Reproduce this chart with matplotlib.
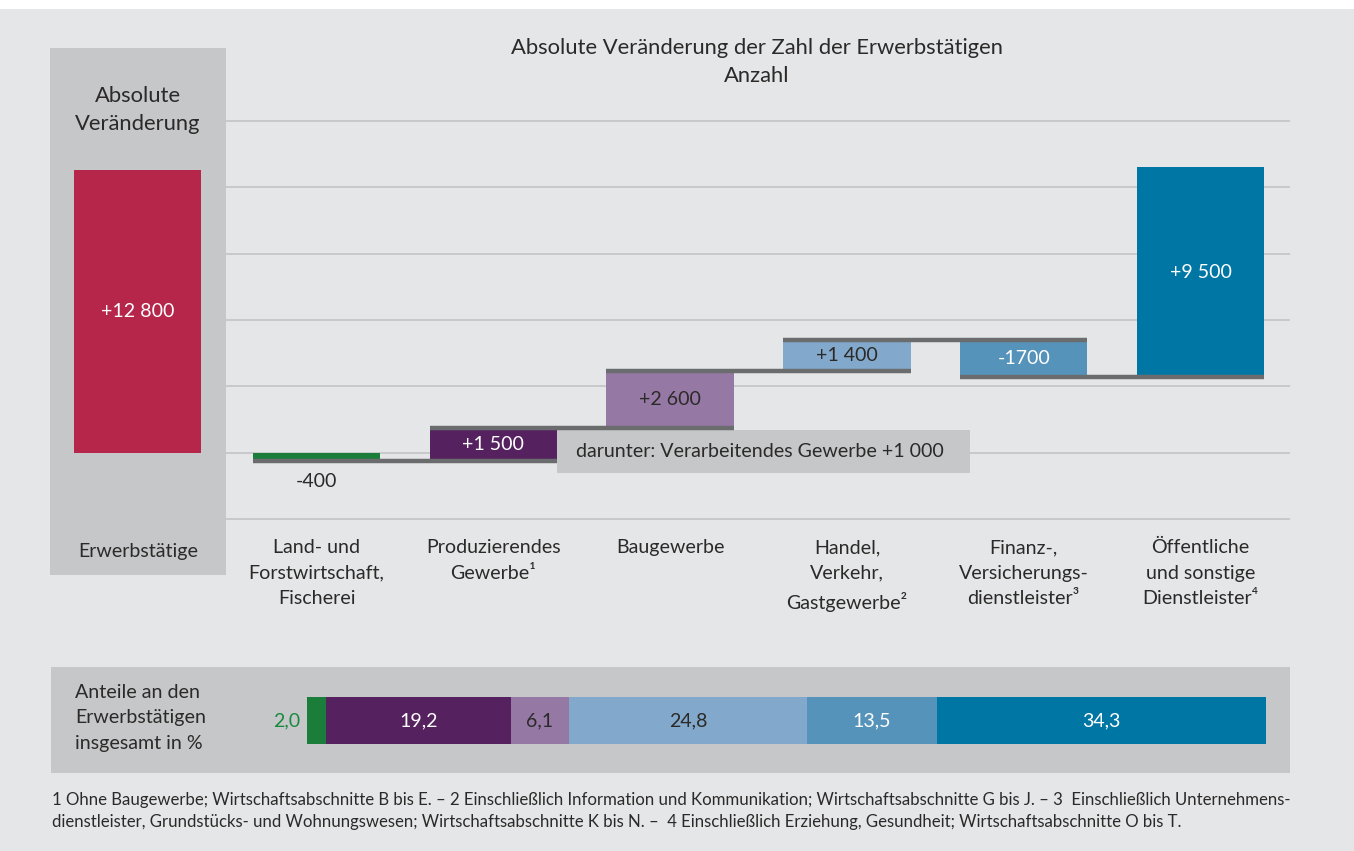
import matplotlib
matplotlib.use("Agg")
import matplotlib.pyplot as plt
from matplotlib.patches import Rectangle

# ---------------- data ----------------
categories = [
    "Land- und\nForstwirtschaft,\nFischerei",
    "Produzierendes\nGewerbe\u00b9",
    "Baugewerbe",
    "Handel,\nVerkehr,\nGastgewerbe\u00b2",
    "Finanz-,\nVersicherungs-\ndienstleister\u00b3",
    "\u00d6ffentliche\nund sonstige\nDienstleister\u2074",
]
changes = [-400, 1500, 2600, 1400, -1700, 9500]
change_labels = ["-400", "+1 500", "+2 600", "+1 400", "-1700", "+9 500"]
total_change = 12800
total_label = "+12 800"
shares = [2.0, 19.2, 6.1, 24.8, 13.5, 34.3]
share_labels = ["2,0", "19,2", "6,1", "24,8", "13,5", "34,3"]
grid_ticks = [-3000, 0, 3000, 6000, 9000, 12000, 15000]
subnote = "darunter: Verarbeitendes Gewerbe +1 000"

# ---------------- style ----------------
colors = ["#1a7d3a", "#55215f", "#9678a5", "#82a9cb", "#5593bb", "#0076a5"]
label_colors = ["#2b2a29", "white", "#2b2a29", "#2b2a29", "white", "white"]
share_label_colors = ["#1a8a40", "white", "#2b2a29", "#2b2a29", "white", "white"]
red = "#b5264a"
bg = "#e5e6e8"
panel = "#c6c7c9"
grid_c = "#c5c6c8"
conn_c = "#6b6c6e"
txt = "#2b2a29"

FS = 14.1      # body text
FT = 15.8      # titles
FF = 12.1      # footnote
LS = 1.49      # titles / footnote
LSB = 1.61     # body multi-line labels

plt.rcParams["font.family"] = ["Lato", "DejaVu Sans"]

W, H = 1354, 851
fig = plt.figure(figsize=(W / 100, H / 100), dpi=100, facecolor=bg)


def fx(px):
    return px / W


def fy(py):
    return 1 - py / H


def axes_px(x0, y0, x1, y1):
    return fig.add_axes([fx(x0), fy(y1), (x1 - x0) / W, (y1 - y0) / H])


# white strip at top
fig.patches.append(Rectangle((0, fy(9)), 1, 9 / H, transform=fig.transFigure,
                             facecolor="white", edgecolor="none", zorder=0))

# vertical scale shared by main and left panel
zero_px, px_per_3000 = 452.5, 66.3
top_px, bot_px = 48, 575
ylim_top = (zero_px - top_px) / px_per_3000 * 3000
ylim_bot = -(bot_px - zero_px) / px_per_3000 * 3000

# ---------------- main waterfall axes ----------------
c0, step = 316.5, 176.8
ax = axes_px(225, top_px, 1290, bot_px)
ax.set_facecolor("none")
ax.set_xlim((225 - c0) / step, (1290 - c0) / step)
ax.set_ylim(ylim_bot, ylim_top)
for s in ax.spines.values():
    s.set_visible(False)
ax.set_yticks(grid_ticks)
ax.set_xticks([])
ax.tick_params(left=False, labelleft=False)
ax.grid(axis="y", color=grid_c, lw=1.3, zorder=0)

bw = 0.72
cum = 0
starts, ends = [], []
for v in changes:
    starts.append(cum)
    cum += v
    ends.append(cum)

xs = list(range(len(changes)))
ax.bar(xs, changes, bottom=starts, width=bw, color=colors, zorder=3)

# connectors
for i in range(len(changes) - 1):
    ax.hlines(ends[i], i - bw / 2, i + 1 + bw / 2, color=conn_c, lw=3.2, zorder=4)

# sub-note box
box_left = 1 + bw / 2
box_right = (970 - c0) / step
box_top = ends[1] - 100
box_bot = box_top - 1950
ax.add_patch(Rectangle((box_left, box_bot), box_right - box_left, box_top - box_bot,
                       facecolor=panel, edgecolor="none", zorder=2))
ax.text(box_left + 0.11, (box_top + box_bot) / 2, subnote, ha="left", va="center",
        fontsize=FS, color=txt, zorder=5)

# value labels
for i, (v, lab) in enumerate(zip(changes, change_labels)):
    if i == 0:
        ax.text(i, ends[i] - 900, lab, ha="center", va="center", fontsize=FS,
                color=label_colors[i], zorder=5)
    else:
        ax.text(i, (starts[i] + ends[i]) / 2, lab, ha="center", va="center",
                fontsize=FS, color=label_colors[i], zorder=5)

# category labels
ytr = ax.get_xaxis_transform()
for i, cat in enumerate(categories):
    ax.text(i, (bot_px - 539) / (bot_px - top_px), cat, transform=ytr, ha="center",
            va="top", fontsize=FS, color=txt, linespacing=LSB)

# title
fig.text(fx(757), fy(48), "Absolute Ver\u00e4nderung der Zahl der Erwerbst\u00e4tigen",
         ha="center", va="center", fontsize=FT, color=txt)
fig.text(fx(757), fy(76), "Anzahl", ha="center", va="center", fontsize=FT, color=txt)

# ---------------- left panel ----------------
axl = axes_px(50, top_px, 226, bot_px)
axl.set_facecolor(panel)
axl.set_xlim(0, 1)
axl.set_ylim(ylim_bot, ylim_top)
for s in axl.spines.values():
    s.set_visible(False)
axl.set_xticks([])
axl.set_yticks([])
axl.bar([0.497], [total_change], width=0.722, color=red, zorder=3)
axl.text(0.497, total_change / 2, total_label, ha="center", va="center",
         fontsize=FS, color="white", zorder=4)
fig.text(fx(138), fy(110), "Absolute\nVer\u00e4nderung", ha="center", va="center",
         fontsize=FT, color=txt, linespacing=LS)
fig.text(fx(138), fy(551), "Erwerbst\u00e4tige", ha="center", va="center",
         fontsize=FS, color=txt)

# ---------------- bottom share bar ----------------
bx0, bx1 = 51, 1290
by0, by1 = 667, 773
sb0, sb1 = 307, 1266
pxu = (sb1 - sb0) / sum(shares)
axb = axes_px(bx0, by0, bx1, by1)
axb.set_facecolor(panel)
axb.set_xlim((bx0 - sb0) / pxu, (bx1 - sb0) / pxu)
axb.set_ylim(0, 1)
for s in axb.spines.values():
    s.set_visible(False)
axb.set_xticks([])
axb.set_yticks([])
yc = (by1 - 720.5) / (by1 - by0)
hh = 47 / (by1 - by0)
left = 0
lefts = []
for s in shares:
    lefts.append(left)
    left += s
axb.barh([yc] * len(shares), shares, left=lefts, height=hh, color=colors, zorder=3)
for i, (s, l, lab) in enumerate(zip(shares, lefts, share_labels)):
    if i == 0:
        axb.text(l - 0.7, yc, lab, ha="right", va="center", fontsize=FS,
                 color=share_label_colors[i], zorder=4)
    else:
        axb.text(l + s / 2, yc, lab, ha="center", va="center", fontsize=FS,
                 color=share_label_colors[i], zorder=4)
fig.text(fx(75), fy(718), "Anteile an den\nErwerbst\u00e4tigen\ninsgesamt in %",
         ha="left", va="center", fontsize=FS, color=txt, linespacing=LSB)

# ---------------- footnote ----------------
foot = ("1 Ohne Baugewerbe; Wirtschaftsabschnitte B bis E. \u2013 2 Einschlie\u00dflich "
        "Information und Kommunikation; Wirtschaftsabschnitte G bis J. \u2013 3  "
        "Einschlie\u00dflich Unternehmens-\n"
        "dienstleister, Grundst\u00fccks- und Wohnungswesen; Wirtschaftsabschnitte K bis N. "
        "\u2013  4 Einschlie\u00dflich Erziehung, Gesundheit; Wirtschaftsabschnitte O bis T.")
fig.text(fx(52), fy(811), foot, ha="left", va="center", fontsize=FF, color=txt,
         linespacing=LS)

fig.savefig("out.png", dpi=100, facecolor=bg)
